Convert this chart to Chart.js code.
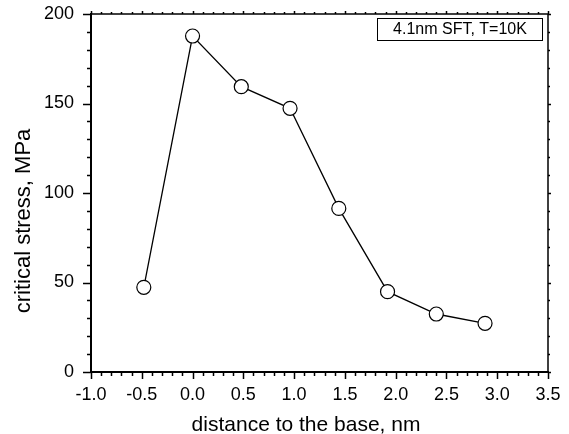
<!DOCTYPE html>
<html>
<head>
<meta charset="utf-8">
<script src="https://cdn.jsdelivr.net/npm/chart.js@4.4.1/dist/chart.umd.min.js"></script>
<style>
  html, body { margin: 0; padding: 0; background: #fff; }
  #wrap { width: 569px; height: 434px; position: relative; }
</style>
</head>
<body>
<div id="wrap"><canvas id="stressChart"></canvas></div>
<script>
// distance to the base (nm) and critical stress (MPa)
const distance = [-0.48, 0.0, 0.48, 0.96, 1.44, 1.92, 2.40, 2.88];
const criticalStress = [47.3, 187.7, 159.4, 147.3, 91.4, 44.9, 32.4, 27.2];

const xRange = [-1.0, 3.5];
const yRange = [0, 200];
const legendText = '4.1nm SFT, T=10K';
const xTitle = 'distance to the base, nm';
const yTitle = 'critical stress, MPa';

const FONT = "'Liberation Sans', Arial, sans-serif";

// ── Frame, ticks, axis titles and caption box ─────────
const framePlugin = {
    id: 'frameTicks',
    afterDraw(chart) {
        const ctx = chart.ctx;
        const a = chart.chartArea;
        const xs = chart.scales.x;
        const ys = chart.scales.y;
        ctx.save();
        ctx.strokeStyle = '#000';
        ctx.lineCap = 'square';

        // top / right border
        ctx.lineWidth = 1.5;
        ctx.beginPath();
        ctx.moveTo(a.left, a.top);
        ctx.lineTo(a.right, a.top);
        ctx.lineTo(a.right, a.bottom);
        ctx.stroke();

        // left / bottom axes
        ctx.lineWidth = 2;
        ctx.beginPath();
        ctx.moveTo(a.left, a.top);
        ctx.lineTo(a.left, a.bottom);
        ctx.lineTo(a.right, a.bottom);
        ctx.stroke();

        ctx.lineCap = 'butt';
        ctx.lineWidth = 1.5;
        ctx.beginPath();
        // x ticks every 0.1, major every 0.5
        for (let i = -10; i <= 35; i++) {
            const px = Math.round(xs.getPixelForValue(i / 10)) + 0.5;
            const major = i % 5 === 0;
            ctx.moveTo(px, a.bottom);
            ctx.lineTo(px, a.bottom + (major ? 7 : 4));
            ctx.moveTo(px, a.top);
            ctx.lineTo(px, a.top - (major ? 3 : 2));
        }
        // y ticks every 10, major every 50
        for (let v = 0; v <= 200; v += 10) {
            const py = Math.round(ys.getPixelForValue(v)) + 0.5;
            const major = v % 50 === 0;
            ctx.moveTo(a.left, py);
            ctx.lineTo(a.left - (major ? 8 : 4), py);
            ctx.moveTo(a.right, py);
            ctx.lineTo(a.right + (major ? 3 : 2), py);
        }
        ctx.stroke();

        ctx.fillStyle = '#000';
        ctx.textAlign = 'center';

        // axis titles (sit a little off-centre in the original)
        ctx.textBaseline = 'alphabetic';
        ctx.font = '21px ' + FONT;
        ctx.fillText(xTitle, 306, 431);
        ctx.save();
        ctx.translate(30, 221);
        ctx.rotate(-Math.PI / 2);
        ctx.font = '22px ' + FONT;
        ctx.fillText(yTitle, 0, 0);
        ctx.restore();

        // caption box
        ctx.lineWidth = 1;
        ctx.strokeRect(377.5, 18.5, 165, 22);
        ctx.font = '16px ' + FONT;
        ctx.textBaseline = 'middle';
        ctx.fillText(legendText, 460, 29.5);
        ctx.restore();
    }
};

// label overflow would otherwise push the plot area inwards
function fixBox(size, prop) {
    return s => {
        s[prop] = size;
        s.paddingTop = 0;
        s.paddingBottom = 0;
        s.paddingLeft = 0;
        s.paddingRight = 0;
    };
}

const ctx = document.getElementById('stressChart').getContext('2d');
new Chart(ctx, {
    type: 'line',
    data: {
        datasets: [{
            label: legendText,
            data: distance.map((d, i) => ({ x: d, y: criticalStress[i] })),
            borderColor: '#000',
            borderWidth: 1.3,
            backgroundColor: '#fff',
            pointBackgroundColor: '#fff',
            pointBorderColor: '#000',
            pointBorderWidth: 1.2,
            pointRadius: 7,
            tension: 0
        }]
    },
    options: {
        responsive: true,
        maintainAspectRatio: false,
        animation: false,
        layout: {
            autoPadding: false,
            padding: { left: 0, top: 14, right: 21, bottom: 0 }
        },
        plugins: {
            legend: { display: false },
            tooltip: { enabled: false }
        },
        scales: {
            x: {
                type: 'linear',
                min: xRange[0],
                max: xRange[1],
                grid: { display: false, drawTicks: false },
                border: { display: false },
                ticks: {
                    stepSize: 0.5,
                    padding: 12,
                    color: '#000',
                    font: { size: 18, family: FONT },
                    callback: v => v.toFixed(1)
                },
                afterFit: fixBox(62, 'height')
            },
            y: {
                min: yRange[0],
                max: yRange[1],
                grid: { display: false, drawTicks: false },
                border: { display: false },
                ticks: {
                    stepSize: 50,
                    padding: 17,
                    color: '#000',
                    font: { size: 18, family: FONT }
                },
                afterFit: fixBox(91, 'width')
            }
        }
    },
    plugins: [framePlugin]
});
</script>
</body>
</html>
